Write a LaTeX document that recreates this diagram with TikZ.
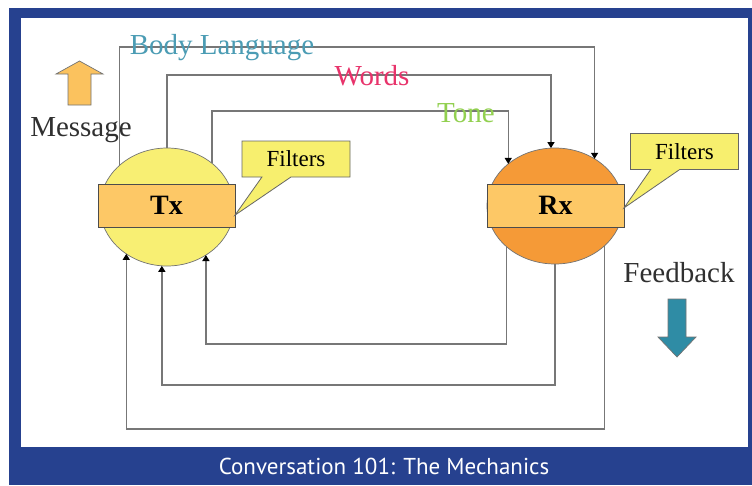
\documentclass[tikz,border=0pt]{standalone}
\usepackage{fontspec}
\setmainfont{Liberation Serif}
\newfontfamily\capfont{PT Sans}
\usetikzlibrary{arrows.meta,shapes.geometric,shapes.callouts,calc}
\definecolor{frameblue}{HTML}{26418F}
\definecolor{blteal}{HTML}{4B9CB4}
\definecolor{wordsred}{HTML}{E8336B}
\definecolor{tonegreen}{HTML}{92D050}
\definecolor{txyellow}{HTML}{F8EF73}
\definecolor{rxorange}{HTML}{F59A37}
\definecolor{boxorange}{HTML}{FDC866}
\definecolor{calloutyellow}{HTML}{F7EF6E}
\definecolor{msgorange}{HTML}{FBC25E}
\definecolor{fbteal}{HTML}{2F8CA5}
\definecolor{linegray}{HTML}{777777}
\definecolor{textgray}{HTML}{303030}
\begin{document}
\begin{tikzpicture}[x=1pt,y=-1pt,
  conn/.style={draw=linegray,line width=1.3pt},
  arr/.style={-{Triangle[length=6pt,width=7pt,color=black]}},
  lbl/.style={font=\fontsize{29}{31}\selectfont, inner sep=0pt, anchor=base},
  ell/.style={ellipse, draw=black!55, line width=0.7pt, inner sep=0pt, outer sep=0pt},
  fbox/.style={rectangle, draw=black!70, line width=0.9pt, fill=boxorange,
    minimum width=137pt, minimum height=43pt, inner sep=0pt, outer sep=0pt,
    font=\bfseries\fontsize{28}{30}\selectfont},
  callbox/.style={rectangle callout, fill=calloutyellow, draw=black!60, line width=0.8pt,
    minimum width=108pt, minimum height=36pt, inner sep=0pt, outer sep=0pt,
    callout pointer width=29pt, font=\fontsize{23}{25}\selectfont},
  bigarrow/.style={draw=black!55, line width=0.7pt}]
\useasboundingbox (0,0) rectangle (752,485);
% frame
\fill[frameblue] (9,8) rectangle (752,485);
\fill[white] (21,18) rectangle (748,447);
\node[font=\capfont\fontsize{23}{26}\selectfont, text=white] (cap) at (384,466) {Conversation 101: The Mechanics};
% main nodes
\node[ell, fill=txyellow, minimum width=134pt, minimum height=118pt] (tx) at (167,207) {};
\node[ell, fill=rxorange, minimum width=136pt, minimum height=116pt] (rx) at (555,206) {};
\node[fbox] (txr) at (166.5,205.5) {Tx};
\node[fbox] (rxr) at (555.5,205.5) {Rx};
% row heights
\coordinate (yBL) at (0,47);
\coordinate (yW) at (0,75);
\coordinate (yT) at (0,111);
\coordinate (yI) at (0,344);
\coordinate (yM) at (0,385);
\coordinate (yO) at (0,429);
% connectors
\draw[conn,arr] (tx.139) |- (rx.50 |- yBL) -- (rx.50);
\draw[conn,arr] (tx.north) |- (rx.94 |- yW) -- (rx.94);
\draw[conn,arr] (tx.44) |- (rx.138 |- yT) -- (rx.138);
\draw[conn,arr] (rx.220) |- (tx.309 |- yI) -- (tx.309);
\draw[conn,arr] (rx.south) |- (tx.265 |- yM) -- (tx.265);
\draw[conn,arr] (rx.321) |- (tx.229 |- yO) -- (tx.229);
% labels
\node[lbl, text=blteal] (lBL) at (222,54) {Body Language};
\node[lbl, text=wordsred] (lW) at (372,85) {Words};
\node[lbl, text=tonegreen] (lT) at (466,122) {Tone};
\node[lbl, text=textgray] (lM) at (81,136) {Message};
\node[lbl, text=textgray] (lF) at (679,282) {Feedback};
% callouts
\node[callbox, callout absolute pointer={(txr.-8)}] (f1) at (296,159) {Filters};
\node[callbox, callout absolute pointer={(rxr.-2)}] (f2) at (684.5,151.5) {Filters};
% big arrows
\draw[bigarrow, fill=msgorange] (68,105) -- (91,105) -- (91,74) -- (103,74) -- (79.5,61) -- (56,74) -- (68,74) -- cycle;
\draw[bigarrow, fill=fbteal] (668,299) -- (686,299) -- (686,337) -- (696,337) -- (677,357) -- (658,337) -- (668,337) -- cycle;
\end{tikzpicture}
\end{document}
